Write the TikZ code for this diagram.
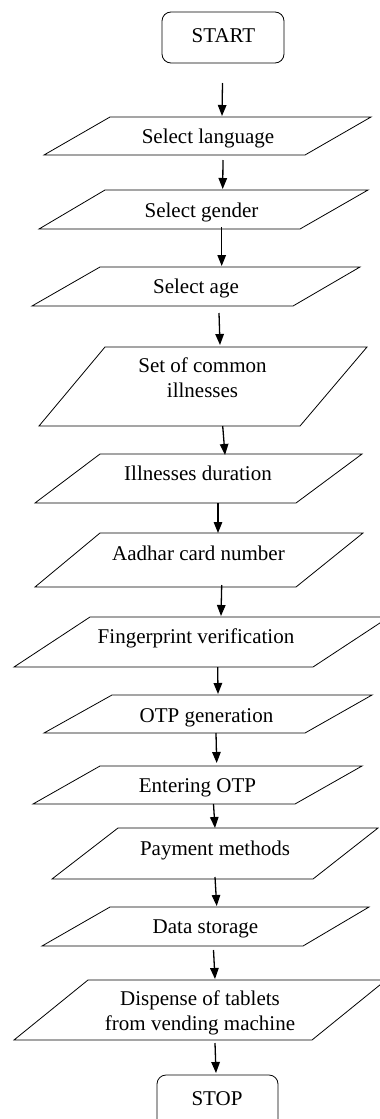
\documentclass[tikz,border=0pt]{standalone}
\usepackage{fontspec}
\setmainfont{Liberation Serif}
\usetikzlibrary{arrows.meta}
\begin{document}
\begin{tikzpicture}[x=1pt,y=-1pt,
  io/.style={draw=black,line width=0.8pt,line join=miter},
  term/.style={draw=black,line width=0.8pt,rounded corners=9pt},
  lbl/.style={anchor=base,font=\fontsize{21}{24.5}\selectfont,align=center,inner sep=0pt},
  arr/.style={line width=1.3pt,-{Triangle[length=11pt,width=8.5pt]}}]
\clip (0,0) rectangle (380,1119);
\fill[white] (0,0) rectangle (380,1119);
% terminals and input/output shapes
\draw[term] (162,12) rectangle (284,63);
\node[lbl] (start) at (223.5,42) {START};
\draw[io] (110,117) -- (371,117) -- (305,155) -- (44,155) -- cycle;
\node[lbl] (lang) at (208,143) {Select language};
\draw[io] (105,190) -- (368,190) -- (300,229) -- (39,229) -- cycle;
\node[lbl] (gender) at (201.5,217) {Select gender};
\draw[io] (100,267) -- (360,267) -- (293,306) -- (32,306) -- cycle;
\node[lbl] (age) at (196,293) {Select age};
\draw[io] (105,347) -- (367,347) -- (300,426) -- (39,426) -- cycle;
\node[lbl] (ill) at (202.5,397) {Set of common\\illnesses};
\draw[io] (100,454) -- (362,454) -- (296,503) -- (35,503) -- cycle;
\node[lbl] (dur) at (198,480) {Illnesses duration};
\draw[io] (100,533) -- (363,533) -- (296,587) -- (35,587) -- cycle;
\node[lbl] (aad) at (198.5,560) {Aadhar card number};
\draw[io] (90,617) -- (389,617) -- (313,667) -- (14,667) -- cycle;
\node[lbl] (fing) at (196,643) {Fingerprint verification};
\draw[io] (112,695) -- (372,695) -- (305,733) -- (44,733) -- cycle;
\node[lbl] (otpg) at (206.5,722) {OTP generation};
\draw[io] (100,766) -- (362,766) -- (295,804) -- (33,804) -- cycle;
\node[lbl] (otpe) at (197.5,792) {Entering OTP};
\draw[io] (118,828) -- (378,828) -- (313,879) -- (52,879) -- cycle;
\node[lbl] (pay) at (215,855) {Payment methods};
\draw[io] (110,907) -- (369,907) -- (303,946) -- (42,946) -- cycle;
\node[lbl] (data) at (205.5,933) {Data storage};
\draw[io] (88,980) -- (386,980) -- (312,1040) -- (14,1040) -- cycle;
\node[lbl] (disp) at (200,1030) {Dispense of tablets\\from vending machine};
\draw[term] (157,1075) rectangle (278,1128);
\node[lbl] (stop) at (217,1105) {STOP};
% connectors
\coordinate (s1) at (222.5,83);   \coordinate (e1) at (222,116);
\coordinate (s2) at (223,160);    \coordinate (e2) at (222.7,189);
\coordinate (s3) at (221.7,227);  \coordinate (e3) at (221.7,266);
\coordinate (s4) at (219,313);    \coordinate (e4) at (220,345);
\coordinate (s5) at (222.7,426);  \coordinate (e5) at (225,455);
\coordinate (s6) at (218,503);    \coordinate (e6) at (218,533);
\coordinate (s7) at (221.7,585);  \coordinate (e7) at (221,616);
\coordinate (s8) at (217.7,667);  \coordinate (e8) at (218,694);
\coordinate (s9) at (216,733);    \coordinate (e9) at (216.7,763);
\coordinate (s10) at (213.5,804); \coordinate (e10) at (215,828);
\coordinate (s11) at (215,877);   \coordinate (e11) at (216.7,906);
\coordinate (s12) at (213.5,950); \coordinate (e12) at (215,979);
\coordinate (s13) at (215,1043);  \coordinate (e13) at (216,1073);
\foreach \i in {1,...,13} {\draw[arr] (s\i) -- (e\i);}
\end{tikzpicture}
\end{document}
